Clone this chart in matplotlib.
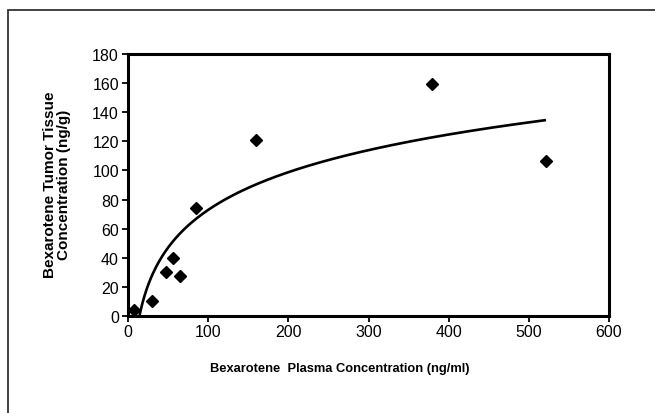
import matplotlib.pyplot as plt
import numpy as np
from matplotlib.patches import Rectangle

plt.rcParams["font.family"] = ["Liberation Sans", "DejaVu Sans"]

# ----------------- Data ------------------------------------------------ #
plasma = [7.9, 29.5, 47.4, 55.7, 65.3, 85.2, 159.7, 378.7, 521.4]   # ng/ml
tumor = [4.1, 10.5, 30.2, 39.6, 27.7, 74.2, 120.9, 159.2, 106.5]    # ng/g
x_ticks = [0, 100, 200, 300, 400, 500, 600]
y_ticks = [0, 20, 40, 60, 80, 100, 120, 140, 160, 180]

# logarithmic trendline fitted to the points (Excel style)
a, b = np.polyfit(np.log(plasma), tumor, 1)
xfit = np.linspace(min(plasma), max(plasma), 400)
yfit = a * np.log(xfit) + b

# ----------------- Plot ------------------------------------------------ #
fig = plt.figure(figsize=(6.55, 4.14), dpi=100)
ax = fig.add_axes([128 / 655, 1 - 317 / 414, (609 - 128) / 655, (317 - 55) / 414])

ax.plot(xfit, yfit, color='black', linewidth=1.9, solid_capstyle='butt')
ax.plot(plasma, tumor, linestyle='none', marker='D', markersize=6,
        color='black', clip_on=False, zorder=3)

ax.set_xlim(0, 600)
ax.set_ylim(0, 180)
ax.set_xticks(x_ticks)
ax.set_yticks(y_ticks)
ax.tick_params(direction='out', length=4, width=1.3, labelsize=11.5, pad=2.5)
ax.tick_params(axis='x', pad=1.5)
for s in ax.spines.values():
    s.set_linewidth(2.2)

fig.text(340 / 655, 1 - 369 / 414, 'Bexarotene  Plasma Concentration (ng/ml)',
         ha='center', va='center', fontsize=9.3, fontweight='bold')
fig.text(57 / 655, 1 - 185 / 414, 'Bexarotene Tumor Tissue\nConcentration (ng/g)',
         ha='center', va='center', rotation=90, fontsize=11, fontweight='bold',
         linespacing=1.05)

# outer chart frame (cut off on the right and at the bottom)
fig.patches.append(Rectangle((8 / 655, -0.1), 1.0, 1.1 - 11 / 414,
                             transform=fig.transFigure, fill=False,
                             edgecolor='#333333', linewidth=1.3))

fig.savefig('out.png', dpi=100)
